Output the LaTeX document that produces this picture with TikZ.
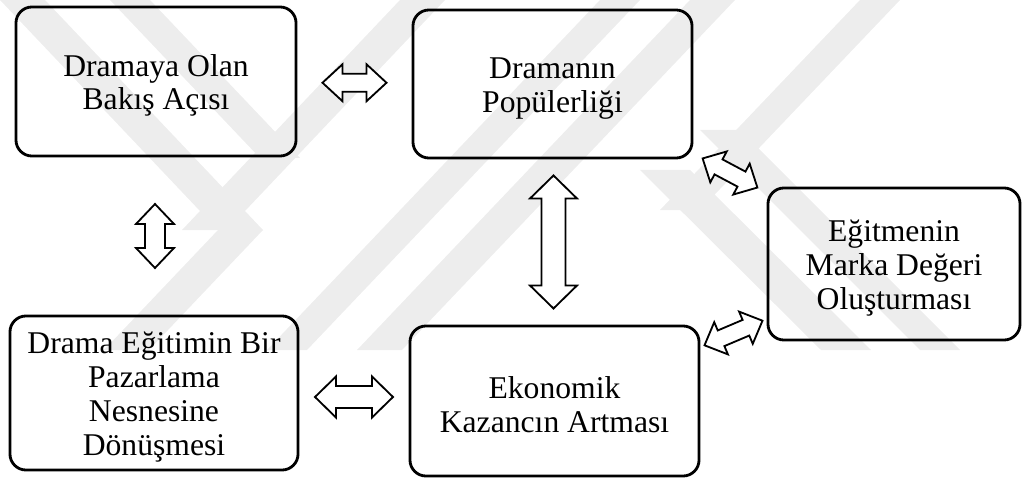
\documentclass[tikz,border=0pt]{standalone}
\usepackage{fontspec}
\setmainfont{Liberation Serif}
\usetikzlibrary{calc}
\definecolor{wm}{gray}{0.93}
\newcommand{\firstline}{\rule{0pt}{21pt}}
\tikzset{
  box/.style={draw, line width=2pt, rounded corners=0.4cm, align=center,
    font=\fontsize{22.5}{24}\selectfont, inner sep=0pt, fill=white, fill opacity=0, text opacity=1},
  barrow/.style={draw, line width=1.3pt, fill=white, line join=miter},
  stripe/.style={fill=wm, draw=none},
}
% center, angle, length, head length, head width, shaft width (pixel units)
\newcommand{\blockarrow}[6]{%
  \draw[barrow, shift={#1}, rotate=#2]
    (-#3/2,0) -- (-#3/2+#4,#5/2) -- (-#3/2+#4,#6/2) -- (#3/2-#4,#6/2)
    -- (#3/2-#4,#5/2) -- (#3/2,0) -- (#3/2-#4,-#5/2) -- (#3/2-#4,-#6/2)
    -- (-#3/2+#4,-#6/2) -- (-#3/2+#4,-#5/2) -- cycle;}
\begin{document}
\begin{tikzpicture}[x=0.025cm, y=-0.025cm]
\useasboundingbox (0,0) rectangle (1022,479);
% faint background watermark
\begin{scope}
  \clip (0,0) rectangle (1022,350);
  \fill[stripe] (0,0) -- (45,0) -- (263,230) -- (218,230) -- cycle;
  \fill[stripe] (110,0) -- (150,0) -- (300,158) -- (260,158) -- cycle;
  \fill[stripe] (400,0) -- (445,0) -- (227,230) -- (182,230) -- cycle;
  \fill[stripe] (218,230) -- (263,230) -- (149,350) -- (104,350) -- cycle;
  \fill[stripe] (600,0) -- (640,0) -- (307,350) -- (267,350) -- cycle;
  \fill[stripe] (690,0) -- (735,0) -- (402,350) -- (357,350) -- cycle;
  \fill[stripe] (860,0) -- (900,0) -- (700,210) -- (660,210) -- cycle;
  \fill[stripe] (640,170) -- (690,170) -- (871,350) -- (821,350) -- cycle;
  \fill[stripe] (700,130) -- (740,130) -- (960,350) -- (920,350) -- cycle;
\end{scope}
\node[box, minimum width=7cm,   minimum height=3.725cm] (b1) at (156,81.5) {\firstline Dramaya Olan\\Bakış Açısı};
\node[box, minimum width=6.975cm, minimum height=3.7cm] (b2) at (552.5,84) {\firstline Dramanın\\Popülerliği};
\node[box, minimum width=6.3cm,  minimum height=3.8cm] (b3) at (894,264) {\firstline Eğitmenin\\Marka Değeri\\Oluşturması};
\node[box, minimum width=7.2cm,  minimum height=3.85cm] (b4) at (154,393) {\firstline Drama Eğitimin Bir\\Pazarlama\\Nesnesine\\Dönüşmesi};
\node[box, minimum width=7.225cm, minimum height=3.75cm] (b5) at (554.5,401) {\firstline Ekonomik\\Kazancın Artması};
\coordinate (a12) at ($(b1.east)!0.5!(b2.west)$);
\coordinate (a14) at ($(b1.south)!0.5!(b4.north)$);
\coordinate (a25) at ($(b2.south)!0.5!(b5.north)$);
\coordinate (a45) at ($(b4.east)!0.5!(b5.west)$);
\coordinate (a23) at ($(b2.south east)!0.5!(b3.north west)$);
\coordinate (a53) at ($(b5.north east)!0.5!(b3.south west)$);
\blockarrow{(a12)}{0}{64}{20}{37}{18}
\blockarrow{(a14)}{90}{64}{20}{38}{20}
\blockarrow{(a25)}{90}{133}{23}{47}{24}
\blockarrow{(a45)}{0}{78}{21}{41}{22}
\blockarrow{(a23)}{-28}{62}{18}{35}{17}
\blockarrow{(a53)}{23}{63}{18}{35}{17}
\end{tikzpicture}
\end{document}
